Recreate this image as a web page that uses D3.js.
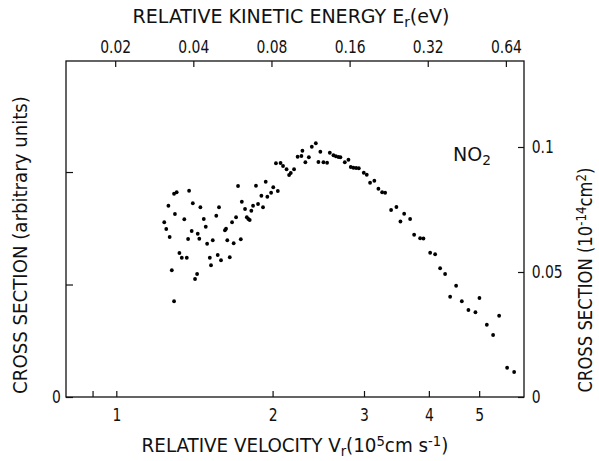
<!DOCTYPE html>
<html>
<head>
<meta charset="utf-8">
<script src="https://cdn.jsdelivr.net/npm/d3@7"></script>
<style>
  body { margin: 0; background: #fff; }
  text { font-family: "DejaVu Sans Condensed", "DejaVu Sans", sans-serif; font-stretch: condensed; fill: #111; }
</style>
</head>
<body>
<svg width="599" height="461"></svg>
<script>
// relative velocity (10^5 cm/s) and cross section (10^-14 cm^2)
var velocity = [1.237, 1.248, 1.260, 1.267, 1.279, 1.292, 1.292, 1.297, 1.307, 1.323,
  1.337, 1.352, 1.367, 1.375, 1.381, 1.397, 1.404, 1.418, 1.431, 1.435,
  1.445, 1.452, 1.474, 1.487, 1.496, 1.514, 1.522, 1.534, 1.558, 1.568,
  1.577, 1.591, 1.619, 1.627, 1.636, 1.654, 1.671, 1.683, 1.701, 1.716,
  1.737, 1.745, 1.770, 1.784, 1.796, 1.807, 1.820, 1.834, 1.858, 1.875,
  1.903, 1.917, 1.940, 1.954, 1.987, 2.006, 2.030, 2.047, 2.072, 2.095,
  2.128, 2.152, 2.168, 2.200, 2.235, 2.273, 2.283, 2.313, 2.349, 2.380,
  2.423, 2.451, 2.472, 2.506, 2.547, 2.578, 2.620, 2.648, 2.678, 2.702,
  2.755, 2.800, 2.829, 2.862, 2.897, 2.932, 2.997, 3.037, 3.082, 3.141,
  3.198, 3.251, 3.295, 3.383, 3.464, 3.526, 3.585, 3.681, 3.747, 3.848,
  3.905, 4.023, 4.113, 4.205, 4.299, 4.396, 4.514, 4.630, 4.767, 4.918,
  5.006, 5.173, 5.319, 5.463, 5.660, 5.839];
var crossSection = [0.0699, 0.0672, 0.0765, 0.0640, 0.0507, 0.0813, 0.0383, 0.0732, 0.0819, 0.0576,
  0.0557, 0.0711, 0.0557, 0.0632, 0.0825, 0.0664, 0.0775, 0.0472, 0.0492, 0.0653,
  0.0633, 0.0759, 0.0712, 0.0681, 0.0613, 0.0557, 0.0527, 0.0627, 0.0725, 0.0568,
  0.0759, 0.0547, 0.0667, 0.0673, 0.0627, 0.0559, 0.0699, 0.0615, 0.0719, 0.0844,
  0.0631, 0.0781, 0.0752, 0.0719, 0.0712, 0.0708, 0.0745, 0.0765, 0.0845, 0.0772,
  0.0805, 0.0759, 0.0861, 0.0801, 0.0817, 0.0839, 0.0935, 0.0824, 0.0936, 0.0924,
  0.0911, 0.0888, 0.0896, 0.0911, 0.0961, 0.0964, 0.0985, 0.0939, 0.0959, 0.1001,
  0.1015, 0.0940, 0.0981, 0.0939, 0.0937, 0.0977, 0.0967, 0.0963, 0.0960, 0.0959,
  0.0939, 0.0949, 0.0920, 0.0917, 0.0916, 0.0915, 0.0897, 0.0889, 0.0857, 0.0865,
  0.0833, 0.0819, 0.0817, 0.0748, 0.0760, 0.0702, 0.0733, 0.0712, 0.0649, 0.0635,
  0.0634, 0.0577, 0.0571, 0.0515, 0.0492, 0.0401, 0.0445, 0.0383, 0.0348, 0.0339,
  0.0396, 0.0289, 0.0248, 0.0325, 0.0117, 0.0100];

var velocityTicks = [0.9, 1, 2, 3, 4, 5];
var velocityLabels = ["", "1", "2", "3", "4", "5"];
var energyTicks = [0.02, 0.04, 0.08, 0.16, 0.32, 0.64];
var energyLabels = ["0.02", "0.04", "0.08", "0.16", "0.32", "0.64"];
var sigmaTicks = [0, 0.05, 0.1];
var sigmaLabels = ["0", "0.05", "0.1"];
var arbTicks = [0, 1, 2];
var arbLabels = ["0", "", ""];

var svg = d3.select("svg");
var frameL = 66, frameR = 524, frameT = 61, frameB = 397;

var energyK = 0.0202; // E = k * v^2
var x = d3.scaleLog().domain([0.8, 6.1]).range([frameL, frameR]);
var xTop = d3.scaleLog().domain([energyK * 0.8 * 0.8, energyK * 6.1 * 6.1]).range([frameL, frameR]);
var y = d3.scaleLinear().domain([0, 0.1344]).range([frameB, frameT]);
var yArb = d3.scaleLinear().domain([0, 2.987]).range([frameB, frameT]);

function styleAxis(g, size) {
  g.select(".domain").remove();
  g.attr("font-family", null).attr("font-size", null);
  g.selectAll("line").attr("stroke", "#111").attr("stroke-width", 1.2);
  g.selectAll("text").style("font-size", size + "px").attr("fill", "#111")
      .attr("transform", "scale(0.86,1)");
}

svg.append("g")
    .attr("transform", "translate(0," + frameB + ")")
    .call(d3.axisBottom(x).tickValues(velocityTicks)
      .tickFormat(function(d, i) { return velocityLabels[i]; })
      .tickSize(-6).tickPadding(11))
    .call(styleAxis, 18);

svg.append("g")
    .attr("transform", "translate(0," + frameT + ")")
    .call(d3.axisTop(xTop).tickValues(energyTicks)
      .tickFormat(function(d, i) { return energyLabels[i]; })
      .tickSize(-6).tickPadding(8))
    .call(styleAxis, 18);

svg.append("g")
    .attr("transform", "translate(" + frameR + ",0)")
    .call(d3.axisRight(y).tickValues(sigmaTicks)
      .tickFormat(function(d, i) { return sigmaLabels[i]; })
      .tickSize(-6).tickPadding(9))
    .call(styleAxis, 18);

svg.append("g")
    .attr("transform", "translate(" + frameL + ",0)")
    .call(d3.axisLeft(yArb).tickValues(arbTicks)
      .tickFormat(function(d, i) { return arbLabels[i]; })
      .tickSize(-7).tickPadding(6))
    .call(styleAxis, 18);

// frame
svg.append("rect")
    .attr("x", frameL).attr("y", frameT)
    .attr("width", frameR - frameL).attr("height", frameB - frameT)
    .attr("fill", "none").attr("stroke", "#111").attr("stroke-width", 1.3);

// points
svg.append("g")
    .selectAll("circle")
    .data(velocity)
    .enter().append("circle")
    .attr("cx", function(d) { return x(d); })
    .attr("cy", function(d, i) { return y(crossSection[i]); })
    .attr("r", 1.9)
    .attr("fill", "#000");

// squeeze a label group to a given width
function fit(g, w) {
  var bw = g.node().getBBox().width;
  g.select("text").attr("transform", "scale(" + (w / bw) + ",1)");
}

function label(tx, ty, rot, size, w, parts) {
  var g = svg.append("g").attr("transform", "translate(" + tx + "," + ty + ") rotate(" + rot + ")");
  var t = g.append("text").attr("text-anchor", "middle").style("font-size", size + "px");
  parts.forEach(function(p) {
    var s = t.append("tspan").text(p[0]);
    if (p[1] === "sub") s.attr("baseline-shift", "-28%").style("font-size", (size * 0.72) + "px");
    if (p[1] === "sup") s.attr("baseline-shift", "45%").style("font-size", (size * 0.72) + "px");
  });
  if (w) fit(g, w);
  return g;
}

label(291, 23, 0, 19, 317, [["RELATIVE KINETIC ENERGY E"], ["r", "sub"], ["(eV)"]]);
label(295, 452, 0, 19, 307, [["RELATIVE VELOCITY V"], ["r", "sub"], ["(10"], ["5", "sup"], ["cm s"], ["-1", "sup"], [")"]]);
label(27, 245, -90, 19, 298, [["CROSS SECTION (arbitrary units)"]]);
label(592, 280, -90, 19, 225, [["CROSS SECTION (10"], ["-14", "sup"], ["cm"], ["2", "sup"], [")"]]);
label(472, 161, 0, 20, 38, [["NO"], ["2", "sub"]]);
</script>
</body>
</html>
